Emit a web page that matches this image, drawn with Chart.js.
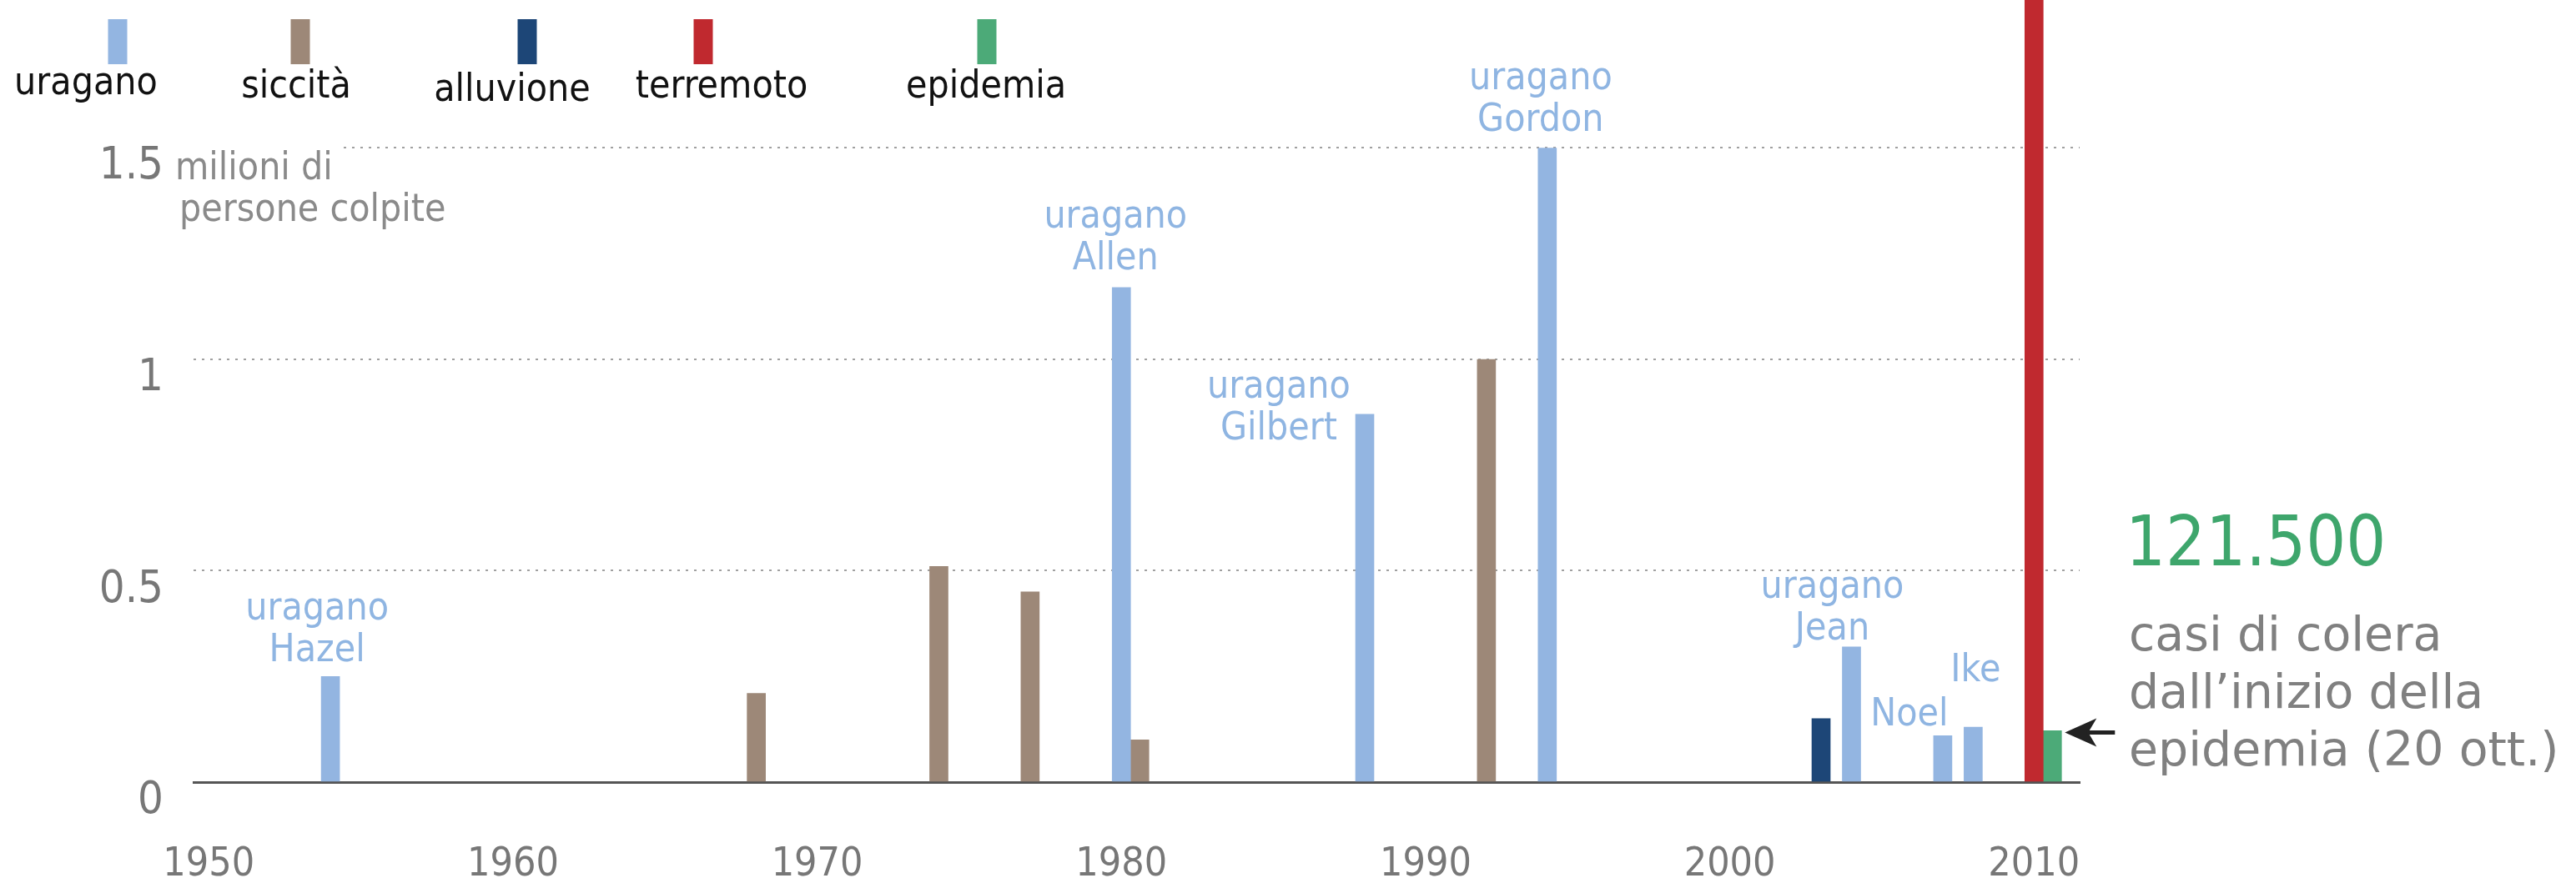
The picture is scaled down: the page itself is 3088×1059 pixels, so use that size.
<!DOCTYPE html>
<html lang="it">
<head>
<meta charset="utf-8">
<title>Haiti: persone colpite dai disastri</title>
<script src="https://cdn.jsdelivr.net/npm/chart.js@4.4.1/dist/chart.umd.min.js"></script>
<style>
  html, body { margin: 0; padding: 0; background: #fff; }
  #chart { display: block; }
</style>
</head>
<body>
<canvas id="chart" width="3088" height="1059"></canvas>
<script>
// persone colpite (milioni) per anno e tipo di disastro
const firstYear = 1950;
const lastYear = 2011;
const decadeTicks = [1950, 1960, 1970, 1980, 1990, 2000, 2010];
const yTicks = [0, 0.5, 1, 1.5];
const yTickLabels = ['0', '0.5', '1', '1.5'];

const uraganoYears = [1954, 1980, 1988, 1994, 2004, 2007, 2008];
const uraganoValues = [0.25, 1.17, 0.87, 1.5, 0.32, 0.11, 0.13];
const uraganoNames = [
  ['uragano', 'Hazel'], ['uragano', 'Allen'], ['uragano', 'Gilbert'],
  ['uragano', 'Gordon'], ['uragano', 'Jean'], ['Noel'], ['Ike']
];

const siccitaYears = [1968, 1974, 1977, 1980, 1992];
const siccitaValues = [0.21, 0.51, 0.45, 0.10, 1.0];

const alluvioneYears = [2003];
const alluvioneValues = [0.15];

const terremotoYears = [2010];
const terremotoValues = [3.0];

const epidemiaYears = [2010];
const epidemiaValues = [0.1215];

const legendLabels = ['uragano', 'siccità', 'alluvione', 'terremoto', 'epidemia'];
const noteLines = ['casi di colera', 'dall\u2019inizio della', 'epidemia (20 ott.)'];
const unitLines = ['milioni di', 'persone colpite'];

(() => {
  'use strict';

  const COND = '"DejaVu Sans Condensed", "DejaVu Sans", sans-serif';
  const COLORS = ['#93b5e1', '#9d8878', '#1d4677', '#c0292f', '#4caa78'];
  const LABEL_BLUE = '#8fb5e2';
  const BAR_W = 22;

  // label offsets from the year centre / bar top (px)
  const LABEL_POS = {
    Hazel: [-16, -18], Allen: [-7, -22], Gilbert: [-103, 30], Gordon: [-8, -20],
    Jean: [-23, -9], Noel: [-40, -12], Ike: [3, -55]
  };
  const LEGEND_SWATCH_X = [141, 360, 632, 843, 1183];
  const LEGEND_TEXT_X = [103, 355, 614, 865, 1182];
  const LEGEND_TEXT_Y = [113, 117, 121, 117, 117];

  const yearLabels = [];
  for (let y = firstYear; y <= lastYear; y++) yearLabels.push(y);

  function seriesFor(years, values) {
    return yearLabels.map(y => {
      const i = years.indexOf(y);
      return i < 0 ? null : values[i];
    });
  }

  // a bar sharing its year with an earlier series sits just to its right
  const sideBySide = {
    id: 'sideBySide',
    afterDatasetsUpdate(chart) {
      const data = chart.data.datasets.map(d => d.data);
      chart.data.datasets.forEach((d, di) => {
        const meta = chart.getDatasetMeta(di);
        meta.data.forEach((el, i) => {
          if (d.data[i] == null) return;
          let before = 0;
          for (let k = 0; k < di; k++) if (data[k][i] != null) before++;
          if (before) el.x += before * BAR_W;
        });
      });
    }
  };

  const annotations = {
    id: 'annotations',
    afterDatasetsDraw(chart) {
      const { ctx, scales: { x, y } } = chart;
      ctx.save();

      // legend
      legendLabels.forEach((lbl, i) => {
        ctx.fillStyle = COLORS[i];
        ctx.fillRect(LEGEND_SWATCH_X[i] - 11.5, 23, 23, 54);
        ctx.fillStyle = '#111';
        ctx.font = '46px ' + COND;
        ctx.textAlign = 'center';
        ctx.textBaseline = 'alphabetic';
        ctx.fillText(lbl, LEGEND_TEXT_X[i], LEGEND_TEXT_Y[i]);
      });

      // unit label, gridline hidden behind it
      ctx.fillStyle = '#fff';
      ctx.fillRect(chart.chartArea.left, y.getPixelForValue(1.5) - 8, 180, 16);
      ctx.fillStyle = '#8a8a8a';
      ctx.font = '46px ' + COND;
      ctx.textAlign = 'left';
      ctx.fillText(unitLines[0], 210, 215);
      ctx.fillText(unitLines[1], 215, 265);

      // hurricane names
      ctx.fillStyle = LABEL_BLUE;
      ctx.textAlign = 'center';
      uraganoYears.forEach((yr, i) => {
        const lines = uraganoNames[i];
        const off = LABEL_POS[lines[lines.length - 1]];
        const cx = x.getPixelForValue(yearLabels.indexOf(yr)) + off[0];
        const base = y.getPixelForValue(uraganoValues[i]) + off[1];
        lines.forEach((t, k) => {
          ctx.fillText(t, cx, base - (lines.length - 1 - k) * 50);
        });
      });

      // cholera note
      const ex = x.getPixelForValue(yearLabels.indexOf(epidemiaYears[0]));
      const ey = y.getPixelForValue(epidemiaValues[0]);
      ctx.textAlign = 'left';
      ctx.fillStyle = '#3ea66c';
      ctx.font = '84px ' + COND;
      ctx.fillText(Math.round(epidemiaValues[0] * 1e6).toLocaleString('it-IT'), 2548, 678);
      ctx.fillStyle = '#808080';
      ctx.font = '57px "DejaVu Sans", sans-serif';
      noteLines.forEach((t, k) => ctx.fillText(t, 2552, 780 + k * 69));

      // arrow
      const tipX = ex + 37;
      const tipY = ey + 2;
      ctx.fillStyle = '#222';
      ctx.beginPath();
      ctx.moveTo(tipX, tipY);
      ctx.lineTo(tipX + 38, tipY - 17);
      ctx.lineTo(tipX + 28, tipY);
      ctx.lineTo(tipX + 38, tipY + 17);
      ctx.closePath();
      ctx.fill();
      ctx.strokeStyle = '#222';
      ctx.lineWidth = 5;
      ctx.beginPath();
      ctx.moveTo(tipX + 26, tipY);
      ctx.lineTo(tipX + 60, tipY);
      ctx.stroke();

      ctx.restore();
    }
  };

  const datasets = [
    { label: legendLabels[0], data: seriesFor(uraganoYears, uraganoValues) },
    { label: legendLabels[1], data: seriesFor(siccitaYears, siccitaValues) },
    { label: legendLabels[2], data: seriesFor(alluvioneYears, alluvioneValues) },
    { label: legendLabels[3], data: seriesFor(terremotoYears, terremotoValues) },
    { label: legendLabels[4], data: seriesFor(epidemiaYears, epidemiaValues) }
  ].map((d, i) => ({ ...d, backgroundColor: COLORS[i], borderWidth: 0 }));

  new Chart(document.getElementById('chart'), {
    type: 'bar',
    data: { labels: yearLabels.map(String), datasets },
    options: {
      responsive: false,
      animation: false,
      devicePixelRatio: 1,
      layout: { padding: { top: 0, right: 595, bottom: 0, left: 0 } },
      datasets: { bar: { barThickness: BAR_W, grouped: false } },
      plugins: { legend: { display: false }, tooltip: { enabled: false } },
      scales: {
        x: {
          offset: true,
          grid: { display: false, drawTicks: false },
          border: { display: true, color: '#555', width: 3 },
          ticks: {
            autoSkip: false,
            maxRotation: 0,
            padding: 71,
            color: '#777',
            font: { family: COND, size: 48 },
            callback: (v, i) => decadeTicks.includes(yearLabels[i]) ? String(yearLabels[i]) : ''
          },
          afterFit(s) { s.height = 121; s.paddingLeft = 0; s.paddingRight = 0; }
        },
        y: {
          min: 0,
          max: 1.85,
          grid: {
            color: c => (c.tick && c.tick.value === 0) ? 'rgba(0,0,0,0)' : '#a0a0a0',
            lineWidth: 2,
            drawTicks: false
          },
          border: { display: false, dash: [3, 7] },
          afterBuildTicks(s) { s.ticks = yTicks.map(v => ({ value: v })); },
          ticks: {
            padding: 36,
            labelOffset: 23,
            color: '#777',
            font: { family: COND, size: 54 },
            callback: v => yTickLabels[yTicks.indexOf(v)] ?? ''
          },
          afterFit(s) { s.width = 232; s.paddingTop = 0; s.paddingBottom = 0; }
        }
      }
    },
    plugins: [sideBySide, annotations]
  });
})();
</script>
</body>
</html>
